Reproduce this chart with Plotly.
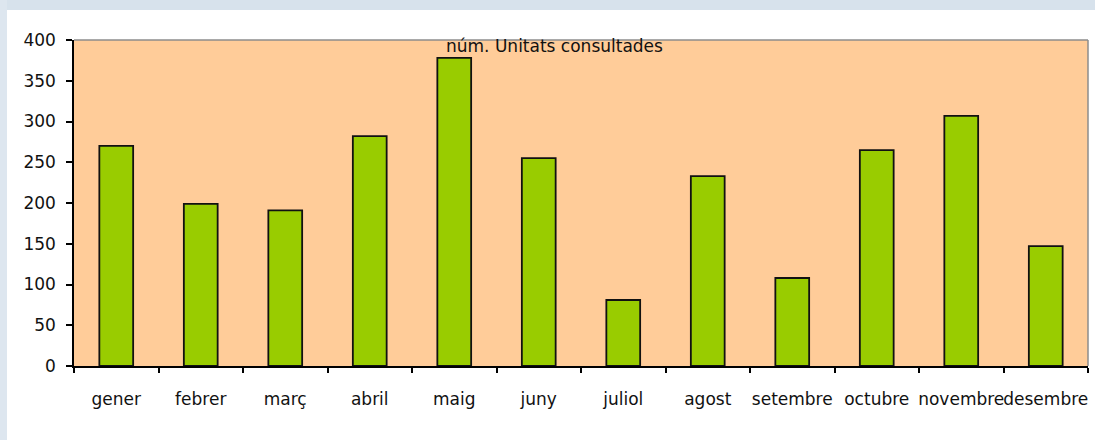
import plotly.graph_objects as go

months = ["gener", "febrer", "març", "abril", "maig", "juny", "juliol",
          "agost", "setembre", "octubre", "novembre", "desembre"]
units = [270, 199, 191, 282, 378, 255, 81, 233, 108, 265, 307, 147]
y_ticks = [0, 50, 100, 150, 200, 250, 300, 350, 400]
title_text = "núm. Unitats consultades"

W, H = 1095, 440
L, R, T, B = 74, 7, 40, 74

fig = go.Figure()
fig.add_trace(go.Bar(
    x=months, y=units, width=0.4,
    marker=dict(color="#99CC00", line=dict(color="#111111", width=1.8)),
    hoverinfo="x+y",
))

font = dict(family="DejaVu Sans, sans-serif", size=17, color="#111111")

fig.update_layout(
    width=W, height=H,
    margin=dict(l=L, r=R, t=T, b=B, autoexpand=False),
    paper_bgcolor="#FFFFFF",
    plot_bgcolor="#FFCC99",
    showlegend=False,
    font=font,
    xaxis=dict(
        type="category", range=[-0.5, 11.5], tickangle=0, automargin=False,
        showline=True, linecolor="#000000", linewidth=1.5,
        ticks="outside", ticklen=5, tickcolor="#000000", tickwidth=1.5,
        tickson="boundaries", showgrid=False, zeroline=False,
        ticklabelstandoff=17, tickfont=font,
    ),
    yaxis=dict(
        range=[0, 400], tickvals=y_ticks, automargin=False,
        showline=True, linecolor="#000000", linewidth=1.5,
        ticks="outside", ticklen=6, tickcolor="#000000", tickwidth=1.5,
        showgrid=False, zeroline=False,
        ticklabelstandoff=7, tickfont=font,
    ),
    shapes=[
        # page background strips
        dict(type="rect", xref="paper", yref="paper", layer="below",
             x0=-L / (W - L - R), x1=(W - L) / (W - L - R) + 0.01,
             y0=1 + (T - 10) / (H - T - B), y1=1 + T / (H - T - B) + 0.01,
             fillcolor="#D7E2EC", line=dict(width=0)),
        dict(type="rect", xref="paper", yref="paper", layer="below",
             x0=-L / (W - L - R) - 0.01, x1=-(L - 7) / (W - L - R),
             y0=-B / (H - T - B) - 0.01, y1=1 + T / (H - T - B) + 0.01,
             fillcolor="#DDE6EF", line=dict(width=0)),
        # top and right gray border of plot area
        dict(type="line", xref="paper", yref="paper", x0=0, x1=1, y0=1, y1=1,
             line=dict(color="#8C8C8C", width=1.5)),
        dict(type="line", xref="paper", yref="paper", x0=1, x1=1, y0=0, y1=1,
             line=dict(color="#8C8C8C", width=1.5)),
    ],
    annotations=[
        dict(text=title_text, xref="paper", yref="paper",
             x=(554 - L) / (W - L - R), y=1, xanchor="center", yanchor="top",
             yshift=6, showarrow=False, font=font),
    ],
)

fig.write_html("out.html", config={"displayModeBar": False},
               post_script="document.body.style.margin='0px';")
